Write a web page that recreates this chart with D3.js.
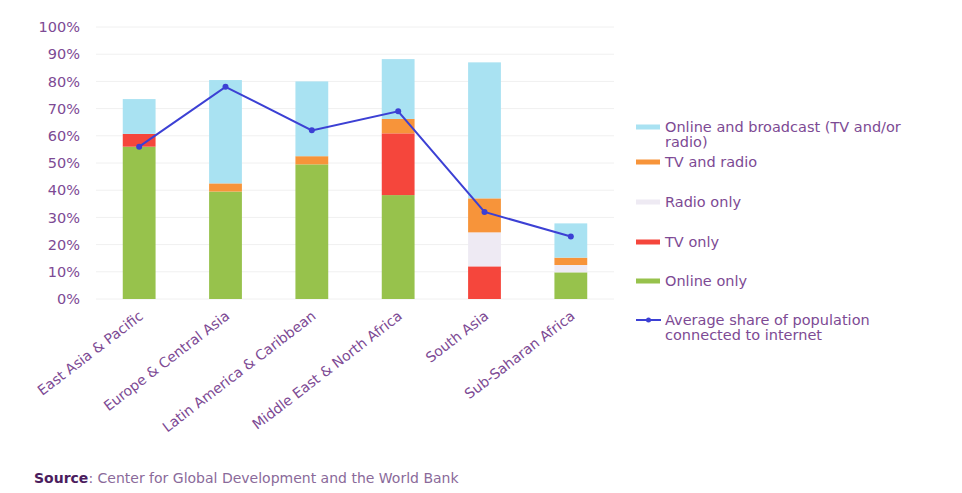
<!DOCTYPE html>
<html>
<head>
<meta charset="utf-8">
<script src="https://cdn.jsdelivr.net/npm/d3@7"></script>
<style>
  body { margin: 0; background: #fff; }
  text { font-family: "DejaVu Sans", Verdana, sans-serif; }
</style>
</head>
<body>
<div id="canvas"></div>
<script>
// Regions along the x axis
var regions = ['East Asia & Pacific', 'Europe & Central Asia', 'Latin America & Caribbean',
    'Middle East & North Africa', 'South Asia', 'Sub-Saharan Africa'];

// Stack segments, bottom to top (percent of population)
var onlineOnly   = [56, 39.5, 49.5, 38.2, 0, 9.8];
var tvOnly       = [4.7, 0, 0, 22.7, 12, 0];
var radioOnly    = [0, 0, 0, 0, 12.5, 2.7];
var tvAndRadio   = [0, 3, 3, 5.3, 12.5, 2.7];
var onlineAndBc  = [12.8, 38, 27.5, 22, 50, 12.6];

// Average share connected to internet
var avgInternet  = [56, 78, 62, 69, 32, 23];

var yTicks = [0, 10, 20, 30, 40, 50, 60, 70, 80, 90, 100];

var seriesKeys = ['online', 'tv', 'radio', 'tvradio', 'onlinebc'];
var seriesValues = [onlineOnly, tvOnly, radioOnly, tvAndRadio, onlineAndBc];
var seriesColors = ['#97c24c', '#f5463c', '#eeeaf3', '#f7943a', '#a9e2f2'];

var legendItems = [
    { lines: ['Online and broadcast (TV and/or', 'radio)'], color: '#a9e2f2', y: 127 },
    { lines: ['TV and radio'], color: '#f7943a', y: 162 },
    { lines: ['Radio only'], color: '#eeeaf3', y: 202 },
    { lines: ['TV only'], color: '#f5463c', y: 242 },
    { lines: ['Online only'], color: '#97c24c', y: 281 },
    { lines: ['Average share of population', 'connected to internet'], color: '#3c40d4', y: 320, isLine: true }
];

var textColor = '#7d4a94';
var lineColor = '#3c40d4';

var svg = d3.select('#canvas').append('svg')
    .attr('width', 962)
    .attr('height', 493);

var x = d3.scaleBand()
    .domain(regions)
    .range([96, 614])
    .paddingInner(0.62)
    .paddingOuter(0.31);

var y = d3.scaleLinear()
    .domain([0, 100])
    .range([299, 27]);

// gridlines
svg.append('g')
    .selectAll('line')
    .data(yTicks)
    .enter().append('line')
    .attr('x1', 96)
    .attr('x2', 614)
    .attr('y1', function(d) { return y(d); })
    .attr('y2', function(d) { return y(d); })
    .attr('stroke', '#f0f0f0')
    .attr('stroke-width', 1);

// y axis labels
var yAxis = d3.axisLeft(y)
    .tickValues(yTicks)
    .tickSize(0)
    .tickPadding(0)
    .tickFormat(function(d) { return d + '%'; });

var yG = svg.append('g')
    .attr('transform', 'translate(80,0)')
    .call(yAxis);
yG.select('.domain').remove();
yG.selectAll('text')
    .attr('fill', textColor)
    .style('font-family', '"DejaVu Sans", sans-serif')
    .style('font-size', '14.5px');

// build stacked table
var table = regions.map(function(r, i) {
    var row = { region: r };
    seriesKeys.forEach(function(k, j) { row[k] = seriesValues[j][i]; });
    return row;
});
var stacked = d3.stack().keys(seriesKeys)(table);

svg.append('g')
    .selectAll('g')
    .data(stacked)
    .enter().append('g')
    .attr('fill', function(d, i) { return seriesColors[i]; })
    .selectAll('rect')
    .data(function(d) { return d; })
    .enter().append('rect')
    .attr('x', function(d) { return x(d.data.region); })
    .attr('width', x.bandwidth())
    .attr('y', function(d) { return y(d[1]); })
    .attr('height', function(d) { return y(d[0]) - y(d[1]); });

// x axis labels, rotated
var xAxis = d3.axisBottom(x).tickSize(0).tickPadding(0);
var xG = svg.append('g')
    .attr('transform', 'translate(0,306)')
    .call(xAxis);
xG.select('.domain').remove();
xG.selectAll('text')
    .attr('fill', textColor)
    .style('font-family', '"DejaVu Sans", sans-serif')
    .style('font-size', '14px')
    .attr('text-anchor', 'end')
    .attr('dy', '0.35em')
    .attr('transform', 'translate(2,8) rotate(-37.5)');

// average internet line
var line = d3.line()
    .x(function(d, i) { return x(regions[i]) + x.bandwidth() / 2; })
    .y(function(d) { return y(d); });

svg.append('path')
    .datum(avgInternet)
    .attr('d', line)
    .attr('fill', 'none')
    .attr('stroke', lineColor)
    .attr('stroke-width', 2);

svg.append('g')
    .selectAll('circle')
    .data(avgInternet)
    .enter().append('circle')
    .attr('cx', function(d, i) { return x(regions[i]) + x.bandwidth() / 2; })
    .attr('cy', function(d) { return y(d); })
    .attr('r', 3)
    .attr('fill', lineColor);

// legend
var legend = svg.append('g');
legendItems.forEach(function(item) {
    var g = legend.append('g').attr('transform', 'translate(636,' + item.y + ')');
    if (item.isLine) {
        g.append('line').attr('x1', 0).attr('x2', 25).attr('y1', 0).attr('y2', 0)
            .attr('stroke', item.color).attr('stroke-width', 2);
        g.append('circle').attr('cx', 12.5).attr('cy', 0).attr('r', 2.5).attr('fill', item.color);
    } else {
        g.append('rect').attr('x', 0).attr('y', -2.5).attr('width', 24).attr('height', 5)
            .attr('fill', item.color);
    }
    item.lines.forEach(function(t, k) {
        g.append('text')
            .attr('x', 29)
            .attr('y', k * 14.5)
            .attr('dy', '0.35em')
            .attr('fill', textColor)
            .style('font-size', '14.5px')
            .text(t);
    });
});

// source note
var src = svg.append('text')
    .attr('x', 34)
    .attr('y', 483)
    .style('font-size', '14px');
src.append('tspan').attr('fill', '#4b1d5e').attr('font-weight', 'bold').text('Source');
src.append('tspan').attr('fill', '#8a6a9a').text(': Center for Global Development and the World Bank');
</script>
</body>
</html>
